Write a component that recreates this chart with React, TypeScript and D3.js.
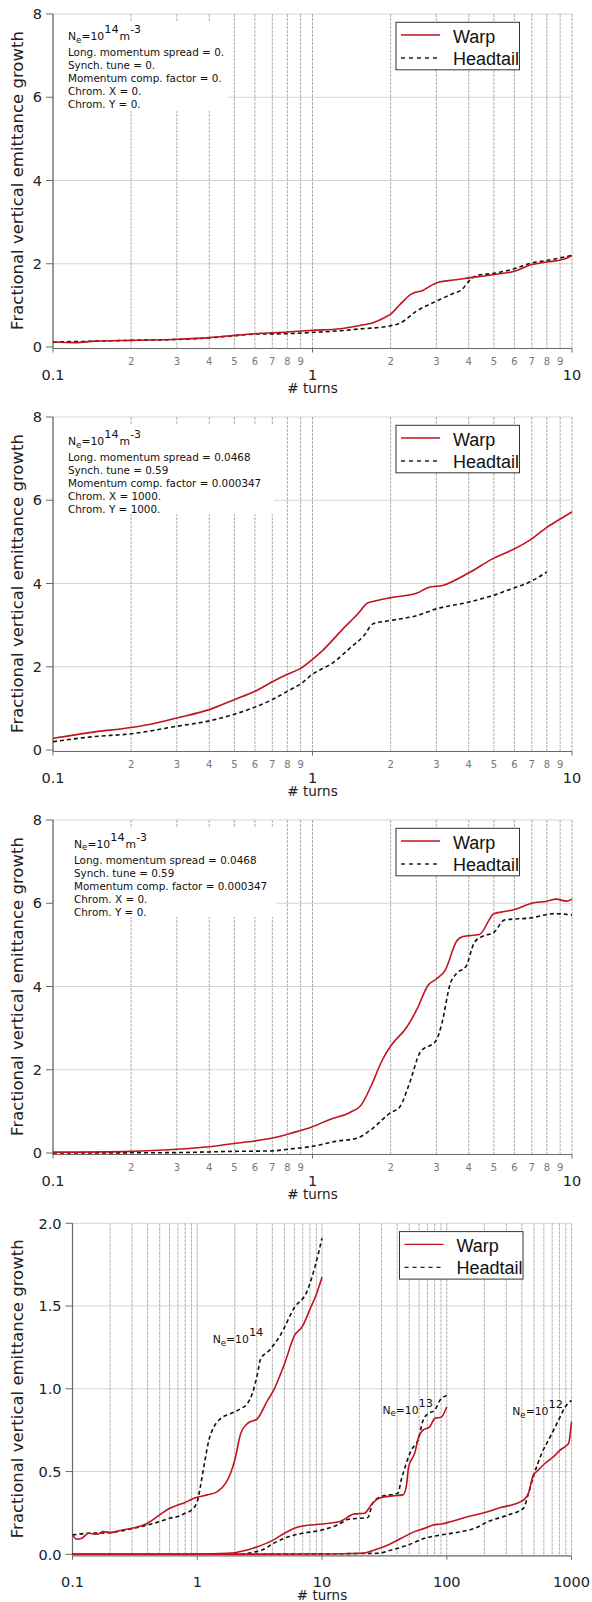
import React from 'react';
import * as d3 from 'd3';

type Pt = [number, number];

// ---------------- data ----------------
const minorDigits = [2, 3, 4, 5, 6, 7, 8, 9];

const xMajor3 = [0.1, 1, 10];
const xMajorLabels3 = ['0.1', '1', '10'];
const yTicks3 = [0, 2, 4, 6, 8];
const yLabels3 = ['0', '2', '4', '6', '8'];

const xMajor4 = [0.1, 1, 10, 100, 1000];
const xMajorLabels4 = ['0.1', '1', '10', '100', '1000'];
const yTicks4 = [0, 0.5, 1, 1.5, 2];
const yLabels4 = ['0.0', '0.5', '1.0', '1.5', '2.0'];

const seriesNames = ['Warp', 'Headtail'];

const panel1Params = [
  'Long. momentum spread = 0.',
  'Synch. tune = 0.',
  'Momentum comp. factor = 0.',
  'Chrom. X = 0.',
  'Chrom. Y = 0.',
];
const panel2Params = [
  'Long. momentum spread = 0.0468',
  'Synch. tune = 0.59',
  'Momentum comp. factor = 0.000347',
  'Chrom. X = 1000.',
  'Chrom. Y = 1000.',
];
const panel3Params = [
  'Long. momentum spread = 0.0468',
  'Synch. tune = 0.59',
  'Momentum comp. factor = 0.000347',
  'Chrom. X = 0.',
  'Chrom. Y = 0.',
];

const panel1Warp: Pt[] = [
  [0.1, 0.12], [0.122, 0.105], [0.145, 0.14], [0.2, 0.16], [0.3, 0.185], [0.4, 0.225],
  [0.5, 0.28], [0.6, 0.32], [0.8, 0.36], [1, 0.4], [1.28, 0.44], [1.5, 0.51], [1.72, 0.59],
  [1.9, 0.71], [2.0, 0.79], [2.18, 1.03], [2.4, 1.27], [2.66, 1.36], [3.0, 1.54], [3.5, 1.61],
  [4, 1.66], [5, 1.74], [6, 1.82], [7, 1.98], [8, 2.04], [9.2, 2.1], [10, 2.2],
];
const panel1Head: Pt[] = [
  [0.1, 0.12], [0.145, 0.14], [0.2, 0.16], [0.3, 0.18], [0.4, 0.22], [0.5, 0.27], [0.6, 0.31],
  [0.8, 0.32], [1, 0.35], [1.28, 0.39], [1.5, 0.43], [2.0, 0.51], [2.2, 0.59], [2.5, 0.85],
  [3.0, 1.1], [3.5, 1.29], [3.75, 1.37], [4.05, 1.61], [4.3, 1.72], [5, 1.77], [6, 1.88],
  [7, 2.02], [8, 2.08], [10, 2.2],
];

const panel2Warp: Pt[] = [
  [0.1, 0.28], [0.143, 0.43], [0.2, 0.54], [0.25, 0.65], [0.3, 0.77], [0.4, 0.97], [0.5, 1.21],
  [0.6, 1.41], [0.7, 1.64], [0.8, 1.82], [0.9, 1.96], [1, 2.18], [1.09, 2.38], [1.31, 2.91],
  [1.49, 3.26], [1.63, 3.53], [1.74, 3.58], [2, 3.66], [2.53, 3.77], [2.78, 3.9], [3.2, 3.96],
  [4.04, 4.27], [5, 4.61], [5.9, 4.81], [6.9, 5.05], [8, 5.35], [9, 5.55], [10, 5.72],
];
const panel2Head: Pt[] = [
  [0.1, 0.2], [0.143, 0.32], [0.2, 0.39], [0.3, 0.57], [0.4, 0.7], [0.5, 0.86], [0.6, 1.03],
  [0.7, 1.21], [0.8, 1.41], [0.9, 1.59], [1, 1.82], [1.2, 2.1], [1.4, 2.46], [1.58, 2.75],
  [1.71, 3.03], [2, 3.11], [2.53, 3.23], [3, 3.39], [4.04, 3.56], [5, 3.72], [5.9, 3.88],
  [6.9, 4.04], [8, 4.28],
];

const panel3Warp: Pt[] = [
  [0.1, 0.02], [0.2, 0.04], [0.3, 0.09], [0.4, 0.15], [0.5, 0.23], [0.6, 0.29], [0.7, 0.36],
  [0.8, 0.45], [0.9, 0.54], [1, 0.63], [1.16, 0.8], [1.4, 0.98], [1.54, 1.15], [1.69, 1.64],
  [1.85, 2.21], [2, 2.57], [2.3, 3.01], [2.53, 3.46], [2.78, 4.02], [3, 4.18], [3.24, 4.38],
  [3.6, 5.1], [3.8, 5.2], [4.4, 5.25], [5, 5.75], [5.5, 5.8], [6, 5.85], [7, 6.0], [8, 6.05],
  [8.7, 6.1], [9.5, 6.05], [10, 6.1],
];
const panel3Head: Pt[] = [
  [0.1, 0.0], [0.3, 0.01], [0.5, 0.04], [0.7, 0.05], [0.8, 0.09], [1, 0.16], [1.23, 0.28],
  [1.49, 0.36], [1.69, 0.57], [2, 0.97], [2.16, 1.09], [2.36, 1.66], [2.6, 2.42], [3, 2.71],
  [3.15, 3.11], [3.4, 4.08], [3.6, 4.32], [3.9, 4.48], [4.2, 5.05], [4.5, 5.2], [5, 5.3],
  [5.5, 5.6], [7, 5.65], [8.5, 5.75], [10, 5.72],
];

const panel4Warp14: Pt[] = [
  [0.1, 0.117], [0.108, 0.091], [0.119, 0.097], [0.134, 0.127], [0.157, 0.121], [0.177, 0.137],
  [0.2, 0.131], [0.25, 0.147], [0.3, 0.157], [0.35, 0.171], [0.4, 0.188], [0.5, 0.238],
  [0.6, 0.278], [0.7, 0.298], [0.8, 0.313], [0.9, 0.333], [1, 0.345], [1.2, 0.359],
  [1.45, 0.379], [1.69, 0.43], [1.85, 0.49], [2, 0.57], [2.23, 0.73], [2.52, 0.79],
  [3.04, 0.82], [3.66, 0.93], [4.09, 0.99], [4.6, 1.08], [5, 1.15], [6, 1.32], [7, 1.38],
  [8, 1.48], [9, 1.57], [10, 1.675],
];
const panel4Head14: Pt[] = [
  [0.1, 0.117], [0.134, 0.127], [0.2, 0.131], [0.3, 0.155], [0.4, 0.177], [0.5, 0.198],
  [0.6, 0.218], [0.7, 0.228], [0.8, 0.248], [0.9, 0.268], [1, 0.319], [1.06, 0.41],
  [1.13, 0.53], [1.24, 0.69], [1.36, 0.77], [1.54, 0.82], [1.85, 0.85], [2.23, 0.88],
  [2.52, 0.91], [2.76, 0.97], [3.04, 1.09], [3.22, 1.18], [3.76, 1.23], [4.6, 1.32],
  [6, 1.49], [7.6, 1.59], [8.8, 1.74], [10, 1.91],
];
const panel4Warp13: Pt[] = [
  [0.1, 0.002], [1, 0.002], [1.75, 0.006], [2.52, 0.026], [3.04, 0.046], [4.09, 0.087],
  [5, 0.127], [6, 0.157], [7, 0.171], [10, 0.183], [14.1, 0.2], [18.2, 0.244], [21.9, 0.248],
  [24.8, 0.298], [27.2, 0.329], [30.8, 0.345], [37, 0.353], [44.6, 0.359], [47.4, 0.41],
  [49.5, 0.53], [55.3, 0.61], [59.6, 0.71], [64.6, 0.75], [73, 0.77], [80, 0.82],
  [90.6, 0.83], [100, 0.89],
];
const panel4Head13: Pt[] = [
  [0.1, 0.0], [2, 0.0], [3.3, 0.026], [4.1, 0.067], [6, 0.117], [7, 0.127], [10, 0.147],
  [13.3, 0.177], [16.4, 0.212], [23.3, 0.222], [25.6, 0.312], [29.9, 0.349], [40.6, 0.369],
  [43.2, 0.45], [47.4, 0.55], [52, 0.63], [58.9, 0.69], [64.6, 0.81], [70.8, 0.85],
  [80, 0.87], [88, 0.93], [100, 0.96],
];
const panel4Warp12: Pt[] = [
  [0.1, 0.0], [10, 0.002], [20.8, 0.006], [26.3, 0.026], [33.8, 0.056], [43.2, 0.097],
  [55.3, 0.137], [66.5, 0.157], [77.7, 0.177], [90.6, 0.183], [109, 0.198], [149, 0.228],
  [202, 0.252], [275, 0.284], [352, 0.304], [420, 0.333], [452, 0.369], [495, 0.48],
  [527, 0.5], [615, 0.55], [718, 0.59], [811, 0.63], [948, 0.67], [1000, 0.8],
];
const panel4Head12: Pt[] = [
  [2, 0.0], [28, 0.006], [36, 0.026], [49, 0.056], [66.5, 0.097], [90.6, 0.117], [131, 0.137],
  [168, 0.157], [215, 0.198], [312, 0.238], [412, 0.278], [452, 0.369], [495, 0.47],
  [578, 0.61], [675, 0.71], [787, 0.81], [890, 0.89], [1000, 0.93],
];

const panel4Labels = [
  { exp: '14', t: 1.33, v: 1.275 },
  { exp: '13', t: 30.5, v: 0.85 },
  { exp: '12', t: 335, v: 0.84 },
];

// ---------------- styling ----------------
const FONT = "'DejaVu Sans', Verdana, sans-serif";
const LEGEND_FONT = "'Liberation Sans', Arial, sans-serif";
const RED = '#c0141e';
const AXIS = '#6a6a6a';

interface PanelCfg {
  key: string;
  yTopPx: number;
  yZeroPx: number;
  xLeft: number;
  xRight: number;
  xDomain: [number, number];
  yMax: number;
  yTicks: number[];
  yLabels: string[];
  majors: number[];
  majorLabels: string[];
  minorLabels: boolean;
  warp: Pt[][];
  head: Pt[][];
  legendX: number;
  params?: string[];
  paramX?: number;
  paramDy?: number;
  boxW?: number;
}

function minorValues(domain: [number, number]): number[] {
  const out: number[] = [];
  for (let d = domain[0]; d < domain[1] * 0.999; d *= 10) {
    for (const k of minorDigits) out.push(k * d);
  }
  return out;
}

function NeLabel({ x, y, exp, unit, size }: { x: number; y: number; exp: string; unit: boolean; size: number }) {
  return (
    <text x={x} y={y} fontFamily={FONT} fontSize={size} fill="#111">
      N
      <tspan fontSize={size * 0.8} dy={2.5}>e</tspan>
      <tspan dy={-2.5}>=10</tspan>
      <tspan dy={-7} fontSize={size * 1.05}>{exp}</tspan>
      {unit ? (
        <>
          <tspan dy={7} dx={1}>m</tspan>
          <tspan dy={-7}>-3</tspan>
        </>
      ) : null}
    </text>
  );
}

function Panel({ cfg }: { cfg: PanelCfg }) {
  const x = d3.scaleLog().domain(cfg.xDomain).range([cfg.xLeft, cfg.xRight]);
  const y = d3.scaleLinear().domain([0, cfg.yMax]).range([cfg.yZeroPx, cfg.yTopPx]);
  const line = d3
    .line<Pt>()
    .x((d) => x(d[0]))
    .y((d) => y(d[1]))
    .curve(d3.curveMonotoneX);
  const minors = minorValues(cfg.xDomain);
  const axisY = cfg.yZeroPx + 1.5;
  const top = cfg.yTopPx;
  const midX = (cfg.xLeft + cfg.xRight) / 2;
  const midY = (cfg.yTopPx + cfg.yZeroPx) / 2;

  return (
    <g>
      {/* horizontal grid */}
      {cfg.yTicks.slice(1).map((t) => (
        <line key={'h' + t} x1={cfg.xLeft} x2={cfg.xRight} y1={y(t)} y2={y(t)} stroke="#d6d6d6" strokeWidth={1} />
      ))}
      {/* vertical grid */}
      {[...cfg.majors, ...minors].map((t) => (
        <line
          key={'v' + t}
          x1={x(t)}
          x2={x(t)}
          y1={top}
          y2={axisY}
          stroke="#aeaeae"
          strokeWidth={1}
          strokeDasharray="3,1"
        />
      ))}
      {/* parameter box */}
      {cfg.params ? (
        <g>
          <rect x={cfg.xLeft + 1} y={top + 7} width={cfg.boxW} height={90} fill="#fff" />
          <NeLabel x={cfg.paramX!} y={top + 26 + cfg.paramDy!} exp="14" unit size={10.8} />
          {cfg.params.map((p, i) => (
            <text key={p + i} x={cfg.paramX} y={top + 42 + cfg.paramDy! + i * 13} fontFamily={FONT} fontSize={10.4} fill="#111">
              {p}
            </text>
          ))}
        </g>
      ) : null}
      {/* axes */}
      <line x1={cfg.xLeft} x2={cfg.xLeft} y1={top} y2={axisY} stroke={AXIS} strokeWidth={1.2} />
      <line x1={cfg.xLeft} x2={cfg.xRight} y1={axisY} y2={axisY} stroke={AXIS} strokeWidth={1.2} />
      {cfg.yTicks.map((t, i) => (
        <g key={'yt' + t}>
          <line x1={cfg.xLeft - 7} x2={cfg.xLeft} y1={y(t)} y2={y(t)} stroke={AXIS} strokeWidth={1} />
          <text x={cfg.xLeft - 11} y={y(t)} dy="0.36em" textAnchor="end" fontFamily={FONT} fontSize={14.5} fill="#222">
            {cfg.yLabels[i]}
          </text>
        </g>
      ))}
      {cfg.majors.map((t, i) => (
        <g key={'xt' + t}>
          <line x1={x(t)} x2={x(t)} y1={axisY} y2={axisY + 4} stroke={AXIS} strokeWidth={1} />
          <text x={x(t)} y={cfg.yZeroPx + 33} textAnchor="middle" fontFamily={FONT} fontSize={14.5} fill="#222">
            {cfg.majorLabels[i]}
          </text>
        </g>
      ))}
      {cfg.minorLabels
        ? minors.map((t) => (
            <text key={'ml' + t} x={x(t)} y={cfg.yZeroPx + 18} textAnchor="middle" fontFamily={FONT} fontSize={10} fill="#777">
              {String(Math.round(t / Math.pow(10, Math.floor(Math.log10(t) + 1e-9))))}
            </text>
          ))
        : null}
      <text x={midX} y={cfg.yZeroPx + 46} textAnchor="middle" fontFamily={FONT} fontSize={13.5} fill="#222">
        # turns
      </text>
      <text
        transform={`translate(${17},${midY}) rotate(-90)`}
        dy="0.35em"
        textAnchor="middle"
        fontFamily={FONT}
        fontSize={16.5}
        fill="#222"
      >
        Fractional vertical emittance growth
      </text>
      {/* series */}
      {cfg.head.map((s, i) => (
        <path key={'hd' + i} d={line(s) || ''} fill="none" stroke="#111" strokeWidth={1.6} strokeDasharray="4,3" />
      ))}
      {cfg.warp.map((s, i) => (
        <path key={'wp' + i} d={line(s) || ''} fill="none" stroke={RED} strokeWidth={1.6} />
      ))}
      {/* legend */}
      <g>
        <rect x={cfg.legendX} y={top + 8.3} width={123.5} height={47.5} fill="#fff" stroke="#333" strokeWidth={1} />
        <line x1={cfg.legendX + 5} x2={cfg.legendX + 44} y1={top + 21} y2={top + 21} stroke={RED} strokeWidth={1.3} />
        <text x={cfg.legendX + 57} y={top + 28.5} fontFamily={LEGEND_FONT} fontSize={18} fill="#111">
          {seriesNames[0]}
        </text>
        <line
          x1={cfg.legendX + 5}
          x2={cfg.legendX + 44}
          y1={top + 44}
          y2={top + 44}
          stroke="#222"
          strokeWidth={1.3}
          strokeDasharray="4,4"
        />
        <text x={cfg.legendX + 57} y={top + 50.5} fontFamily={LEGEND_FONT} fontSize={18} fill="#111">
          {seriesNames[1]}
        </text>
      </g>
    </g>
  );
}

const P = 403;
const panels: PanelCfg[] = [0, 1, 2].map((i) => ({
  key: 'p' + i,
  yTopPx: 14 + P * i,
  yZeroPx: 347 + P * i,
  xLeft: 53,
  xRight: 572,
  xDomain: [0.1, 10] as [number, number],
  yMax: 8,
  yTicks: yTicks3,
  yLabels: yLabels3,
  majors: xMajor3,
  majorLabels: xMajorLabels3,
  minorLabels: true,
  warp: [[panel1Warp, panel2Warp, panel3Warp][i]],
  head: [[panel1Head, panel2Head, panel3Head][i]],
  legendX: 396,
  params: [panel1Params, panel2Params, panel3Params][i],
  paramX: [68, 68, 74][i],
  paramDy: [0, 2, 1.5][i],
  boxW: [174, 220, 222][i],
}));

const panel4: PanelCfg = {
  key: 'p3',
  yTopPx: 1223.3,
  yZeroPx: 1554.3,
  xLeft: 72.5,
  xRight: 571.5,
  xDomain: [0.1, 1000],
  yMax: 2,
  yTicks: yTicks4,
  yLabels: yLabels4,
  majors: xMajor4,
  majorLabels: xMajorLabels4,
  minorLabels: false,
  warp: [panel4Warp14, panel4Warp13, panel4Warp12],
  head: [panel4Head14, panel4Head13, panel4Head12],
  legendX: 399.5,
};

function Panel4Labels() {
  const x = d3.scaleLog().domain(panel4.xDomain).range([panel4.xLeft, panel4.xRight]);
  const y = d3.scaleLinear().domain([0, panel4.yMax]).range([panel4.yZeroPx, panel4.yTopPx]);
  return (
    <g>
      {panel4Labels.map((l) => (
        <NeLabel key={l.exp} x={x(l.t)} y={y(l.v)} exp={l.exp} unit={false} size={10.8} />
      ))}
    </g>
  );
}

export default function App() {
  return (
    <svg
      width={592}
      height={1602}
      viewBox="0 0 592 1602"
      style={{ position: 'absolute', left: 0, top: 0, display: 'block', background: '#fff' }}
    >
      <rect x={0} y={0} width={592} height={1602} fill="#fff" />
      {panels.map((p) => (
        <Panel key={p.key} cfg={p} />
      ))}
      <Panel cfg={panel4} />
      <Panel4Labels />
    </svg>
  );
}
